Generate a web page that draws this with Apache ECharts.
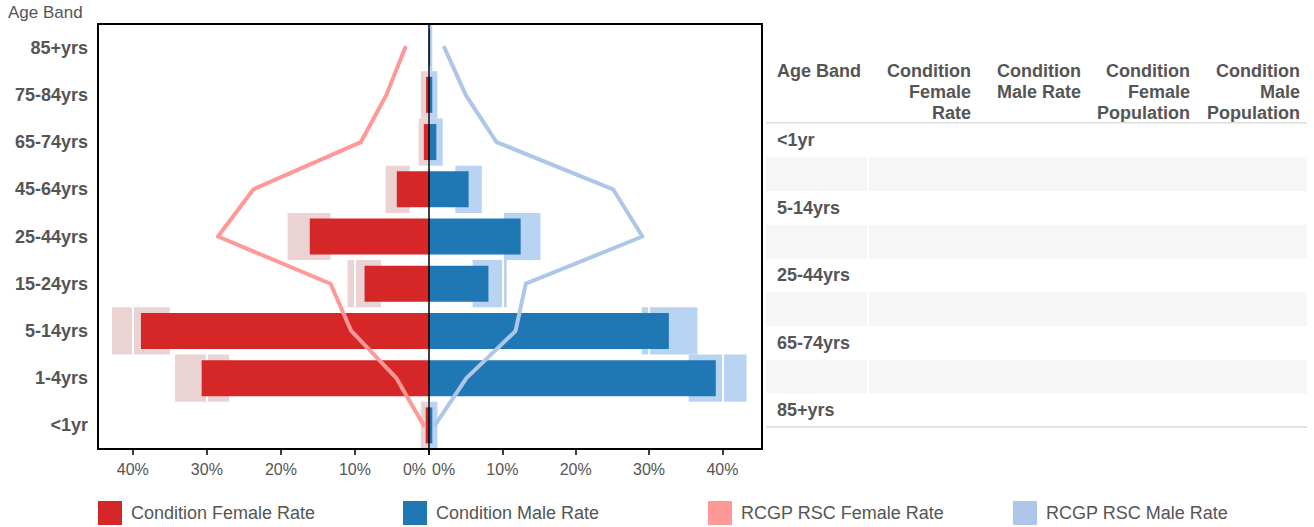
<!DOCTYPE html>
<html>
<head>
<meta charset="utf-8">
<script src="https://cdn.jsdelivr.net/npm/echarts@6/dist/echarts.min.js"></script>
<style>
html,body{margin:0;padding:0;background:#fff;}
#chart{width:1314px;height:527px;}
</style>
</head>
<body>
<div id="chart"></div>
<script>
// ---- data ----
const categories = ['<1yr', '1-4yrs', '5-14yrs', '15-24yrs', '25-44yrs', '45-64yrs', '65-74yrs', '75-84yrs', '85+yrs'];
const conditionFemaleRate = [0.45, 30.7, 38.9, 8.7, 16.1, 4.35, 0.7, 0.4, 0];
const conditionMaleRate = [0.45, 39.1, 32.7, 8.1, 12.5, 5.4, 1.0, 0.45, 0.15];
const femaleCILow = [0, 27.0, 35.0, 6.5, 13.3, 2.6, 0, 0, 0];
const femaleCIHigh = [1.1, 34.3, 42.8, 11.0, 19.1, 5.85, 1.4, 1.1, 0];
const maleCILow = [0, 35.4, 29.0, 5.95, 10.05, 3.6, 0, 0, 0];
const maleCIHigh = [1.15, 43.3, 36.6, 10.6, 15.2, 7.2, 1.87, 1.15, 0.45];
const rcgpFemaleRate = [0.7, 4.4, 10.5, 13.3, 28.5, 23.7, 9.2, 5.75, 3.2];
const rcgpMaleRate = [0.8, 5.1, 11.8, 13.2, 29.1, 25.1, 9.2, 5.0, 2.1];
const xTickValues = [0, 10, 20, 30, 40];
const legendNames = ['Condition Female Rate', 'Condition Male Rate', 'RCGP RSC Female Rate', 'RCGP RSC Male Rate'];
const tableHeaders = [['Age Band'], ['Condition', 'Female', 'Rate'], ['Condition', 'Male Rate'], ['Condition', 'Female', 'Population'], ['Condition', 'Male', 'Population']];
const tableRowLabels = ['<1yr', '', '5-14yrs', '', '25-44yrs', '', '65-74yrs', '', '85+yrs'];

// ---- styling ----
const FONT = '"Liberation Sans", Arial, Helvetica, sans-serif';
const TXT = '#555555';
const C_F = '#d62728', C_M = '#1f77b4', C_FL = '#ff9896', C_ML = '#aec7e8';
const C_FCI = '#ebd3d4', C_MCI = '#b9d3f2';

const femaleCIRange = femaleCIHigh.map((h, i) => h - femaleCILow[i]);
const maleCIRange = maleCIHigh.map((h, i) => h - maleCILow[i]);

const chart = echarts.init(document.getElementById('chart'), null, {renderer: 'svg'});

function xAxisCfg(grid, inverse, max, zeroPad) {
  return {
    type: 'value', gridIndex: grid, min: 0, max: max, interval: 10, inverse: inverse, z: 2,
    axisLine: {show: true, lineStyle: {color: '#000', width: 2}},
    axisTick: {show: true, length: 6, customValues: xTickValues, lineStyle: {color: '#000', width: 1.5}},
    splitLine: {show: true, lineStyle: {color: '#fff', width: 2}},
    axisLabel: {
      customValues: xTickValues,
      fontSize: 16, color: TXT, fontFamily: FONT, margin: 12,
      alignMinLabel: inverse ? 'right' : 'left',
      formatter: v => v === 0 ? '{z|0%}' : v + '%',
      rich: {z: {fontSize: 16, color: TXT, fontFamily: FONT, padding: zeroPad}}
    }
  };
}

function yAxisCfg(grid, opts) {
  return Object.assign({
    type: 'category', gridIndex: grid, data: categories, position: 'left',
    axisTick: {show: false}, axisLine: {show: false, onZero: false},
    axisLabel: {show: false}, splitLine: {show: false}
  }, opts);
}

// table graphics
const graphics = [];
const tX = 766, tW = 541, hdrBottom = 122, rowH = 33.75, rowTop = 123.5;
const colRight = [null, 971, 1081, 1190, 1300];
tableHeaders.forEach((lines, c) => {
  lines.forEach((t, k) => {
    graphics.push({
      type: 'text', x: c === 0 ? 777 : colRight[c], y: 70.5 + k * 21, z: 10,
      style: {text: t, fill: TXT, font: 'bold 18px ' + FONT,
              textAlign: c === 0 ? 'left' : 'right', align: c === 0 ? 'left' : 'right',
              textVerticalAlign: 'middle', verticalAlign: 'middle'}
    });
  });
});
graphics.push({type: 'rect', shape: {x: tX, y: hdrBottom, width: tW, height: 1.5}, style: {fill: '#dddddd'}, z: 10});
tableRowLabels.forEach((lab, i) => {
  const top = rowTop + i * rowH;
  if (i % 2 === 1) {
    graphics.push({type: 'rect', shape: {x: tX, y: top, width: 101, height: rowH}, style: {fill: '#f6f6f6'}, z: 5});
    graphics.push({type: 'rect', shape: {x: 869, y: top, width: tX + tW - 869, height: rowH}, style: {fill: '#f6f6f6'}, z: 5});
  }
  if (lab) {
    graphics.push({
      type: 'text', x: 777, y: top + rowH / 2, z: 10,
      style: {text: lab, fill: TXT, font: 'bold 18px ' + FONT, textAlign: 'left', align: 'left',
              textVerticalAlign: 'middle', verticalAlign: 'middle'}
    });
  }
});
graphics.push({type: 'rect', shape: {x: tX, y: rowTop + 9 * rowH - 1, width: tW, height: 1.5}, style: {fill: '#dddddd'}, z: 10});
// chart frame
graphics.push({type: 'rect', shape: {x: 98, y: 24, width: 664, height: 425}, style: {fill: 'none', stroke: '#000', lineWidth: 2}, z: 100, silent: true});

const legendLefts = [98, 403, 708, 1013];

const option = {
  animation: false,
  backgroundColor: '#fff',
  title: {text: 'Age Band', left: 8, top: 4, padding: 0,
          textStyle: {fontSize: 17, fontWeight: 'normal', color: TXT, fontFamily: FONT}},
  legend: legendNames.map((n, i) => ({
    data: [{name: n, icon: 'rect'}], left: legendLefts[i], top: 501, padding: 0,
    itemWidth: 24, itemHeight: 24, selectedMode: false,
    textStyle: {fontSize: 18, color: TXT, fontFamily: FONT, padding: [0, 0, 0, 4]}
  })),
  grid: [
    {left: 98, top: 24, width: 331, height: 425},
    {left: 429, top: 24, width: 333, height: 425}
  ],
  xAxis: [xAxisCfg(0, true, 44.7, [0, 3, 0, 0]), xAxisCfg(1, false, 45.4, [0, 0, 0, 3])],
  yAxis: [
    yAxisCfg(0, {axisLabel: {show: true, fontSize: 18, fontWeight: 'bold', color: TXT, fontFamily: FONT, margin: 10}, z: 5}),
    yAxisCfg(0, {show: false}),
    yAxisCfg(1, {axisLine: {show: true, onZero: false, lineStyle: {color: '#000', width: 1.5}}, z: 5}),
    yAxisCfg(1, {show: false})
  ],
  graphic: {elements: graphics},
  series: [
    {type: 'bar', name: 'fciBase', xAxisIndex: 0, yAxisIndex: 1, stack: 'fci', barWidth: '100%', z: 1, silent: true,
     itemStyle: {color: 'rgba(0,0,0,0)'}, data: femaleCILow},
    {type: 'bar', name: 'Female CI', xAxisIndex: 0, yAxisIndex: 1, stack: 'fci', barWidth: '100%', z: 1, silent: true,
     itemStyle: {color: C_FCI}, data: femaleCIRange},
    {type: 'bar', name: 'Condition Female Rate', xAxisIndex: 0, yAxisIndex: 0, barWidth: 36, z: 3,
     itemStyle: {color: C_F}, data: conditionFemaleRate},
    {type: 'line', name: 'RCGP RSC Female Rate', xAxisIndex: 0, yAxisIndex: 0, z: 4, symbol: 'none',
     itemStyle: {color: C_FL}, lineStyle: {color: C_FL, width: 4, cap: 'round', join: 'round'}, data: rcgpFemaleRate},
    {type: 'bar', name: 'mciBase', xAxisIndex: 1, yAxisIndex: 3, stack: 'mci', barWidth: '100%', z: 1, silent: true,
     itemStyle: {color: 'rgba(0,0,0,0)'}, data: maleCILow},
    {type: 'bar', name: 'Male CI', xAxisIndex: 1, yAxisIndex: 3, stack: 'mci', barWidth: '100%', z: 1, silent: true,
     itemStyle: {color: C_MCI}, data: maleCIRange},
    {type: 'bar', name: 'Condition Male Rate', xAxisIndex: 1, yAxisIndex: 2, barWidth: 36, z: 3,
     itemStyle: {color: C_M}, data: conditionMaleRate},
    {type: 'line', name: 'RCGP RSC Male Rate', xAxisIndex: 1, yAxisIndex: 2, z: 4, symbol: 'none',
     itemStyle: {color: C_ML}, lineStyle: {color: C_ML, width: 4, cap: 'round', join: 'round'}, data: rcgpMaleRate}
  ]
};
chart.setOption(option);
</script>
</body>
</html>
